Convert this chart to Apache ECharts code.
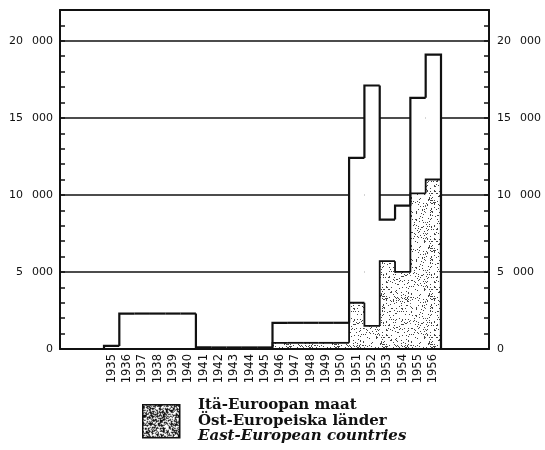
<!DOCTYPE html>
<html>
<head>
<meta charset="utf-8">
<script src="https://cdn.jsdelivr.net/npm/echarts@6/dist/echarts.min.js"></script>
<style>
  html, body { margin: 0; padding: 0; background: #fff; }
  #chart { width: 545px; height: 450px; }
</style>
</head>
<body>
<div id="chart"></div>
<script>
// data
var years = ["1935", "1936", "1937", "1938", "1939", "1940", "1941", "1942", "1943", "1944", "1945",
  "1946", "1947", "1948", "1949", "1950", "1951", "1952", "1953", "1954", "1955", "1956"];
var totalValues = [200, 2300, 2300, 2300, 2300, 2300, 100, 100, 100, 100, 100,
  1700, 1700, 1700, 1700, 1700, 12400, 17100, 8400, 9300, 16300, 19100];
var eastValues = [0, 0, 0, 0, 0, 0, 0, 0, 0, 0, 0,
  400, 400, 400, 400, 400, 3000, 1500, 5700, 5000, 10100, 11000];
var yMax = 22000;
var legendLines = ["Itä-Euroopan maat", "Öst-Europeiska länder", "East-European countries"];

// stipple texture (fixed pseudo pattern, not data)
function makeStipple(size, count, dot) {
  var cv = document.createElement("canvas");
  cv.width = size;
  cv.height = size;
  var ctx = cv.getContext("2d");
  ctx.fillStyle = "#fff";
  ctx.fillRect(0, 0, size, size);
  ctx.fillStyle = dot;
  var s = 12345;
  for (var k = 0; k < count; k++) {
    s = (s * 16807) % 2147483647;
    var x = s % size;
    s = (s * 16807) % 2147483647;
    var y = s % size;
    ctx.fillRect(x, y, 1, 1);
  }
  return cv;
}
var lightStipple = { image: makeStipple(48, 300, "#444"), repeat: "repeat" };
var darkStipple = { image: makeStipple(48, 1500, "#111"), repeat: "repeat" };

function fillItem(values, fill) {
  return function (params, api) {
    var i = params.dataIndex;
    var top = api.coord([i, values[i]]);
    var base = api.coord([i, 0]);
    var w = api.size([1, 0])[0];
    return {
      type: "rect",
      shape: { x: top[0] - w / 2, y: top[1], width: w, height: base[1] - top[1] },
      style: { fill: fill, stroke: null }
    };
  };
}

function outlineItem(values, width) {
  return function (params, api) {
    var i = params.dataIndex;
    var prev = i > 0 ? values[i - 1] : 0;
    var top = api.coord([i, values[i]]);
    var w = api.size([1, 0])[0];
    var x0 = top[0] - w / 2;
    var x1 = top[0] + w / 2;
    var pts = [[x0, api.coord([i, prev])[1]], [x0, top[1]], [x1, top[1]]];
    if (i === values.length - 1) {
      pts.push([x1, api.coord([i, 0])[1]]);
    }
    return {
      type: "polyline",
      shape: { points: pts },
      style: { stroke: "#111", lineWidth: width, fill: null, lineJoin: "miter" }
    };
  };
}

function pairs(values) {
  return values.map(function (v, i) { return [i, v]; });
}

function yLabel(v) {
  if (v % 5000 !== 0) return "";
  if (v === 0) return "0";
  return String(v / 1000) + "\u2002 000";
}

var frameLine = { show: true, onZero: false, lineStyle: { color: "#111", width: 2 } };

var myChart = echarts.init(document.getElementById("chart"));
myChart.setOption({
  backgroundColor: "#fff",
  animation: false,
  grid: [
    { left: 60, right: 56, top: 10, bottom: 101 },
    { left: 104, right: 104, top: 10, bottom: 101 }
  ],
  xAxis: [
    {
      gridIndex: 0, type: "value", min: 0, max: 1, position: "bottom", z: 10,
      axisLine: frameLine,
      axisTick: { show: false }, axisLabel: { show: false }, splitLine: { show: false }
    },
    {
      gridIndex: 0, type: "value", min: 0, max: 1, position: "top", z: 10,
      axisLine: frameLine,
      axisTick: { show: false }, axisLabel: { show: false }, splitLine: { show: false }
    },
    {
      gridIndex: 1, type: "category", data: years, boundaryGap: true,
      axisLine: { show: false }, axisTick: { show: false },
      axisLabel: {
        interval: 0, rotate: 90, margin: 5,
        fontFamily: "DejaVu Sans", fontSize: 11.5, color: "#111"
      }
    }
  ],
  yAxis: [
    {
      gridIndex: 0, type: "value", min: 0, max: yMax, interval: 1000, position: "left",
      axisLine: frameLine,
      axisTick: { show: true, inside: true, length: 5, lineStyle: { color: "#111", width: 1.5 } },
      axisLabel: { formatter: yLabel, margin: 7, fontFamily: "DejaVu Sans", fontSize: 11, color: "#111" },
      splitLine: {
        show: true,
        lineStyle: { color: ["#111", "rgba(0,0,0,0)", "rgba(0,0,0,0)", "rgba(0,0,0,0)", "rgba(0,0,0,0)"], width: 1.5 }
      }
    },
    {
      gridIndex: 0, type: "value", min: 0, max: yMax, interval: 1000, position: "right",
      axisLine: frameLine,
      axisTick: { show: true, inside: true, length: 5, lineStyle: { color: "#111", width: 1.5 } },
      axisLabel: { formatter: yLabel, margin: 8, fontFamily: "DejaVu Sans", fontSize: 11, color: "#111" },
      splitLine: { show: false }
    },
    {
      gridIndex: 1, type: "value", min: 0, max: yMax, show: false
    }
  ],
  series: [
    {
      name: "total-fill", type: "custom", xAxisIndex: 2, yAxisIndex: 2, z: 2,
      renderItem: fillItem(totalValues, "#fff"), data: pairs(totalValues)
    },
    {
      name: legendLines[0], type: "custom", xAxisIndex: 2, yAxisIndex: 2, z: 3,
      renderItem: fillItem(eastValues, lightStipple), data: pairs(eastValues)
    },
    {
      name: "east-outline", type: "custom", xAxisIndex: 2, yAxisIndex: 2, z: 4,
      renderItem: outlineItem(eastValues, 1.8), data: pairs(eastValues)
    },
    {
      name: "total-outline", type: "custom", xAxisIndex: 2, yAxisIndex: 2, z: 5,
      renderItem: outlineItem(totalValues, 2.2), data: pairs(totalValues)
    }
  ],
  graphic: [
    {
      type: "rect", left: 142, top: 404,
      shape: { width: 37, height: 33 },
      style: { fill: darkStipple, stroke: "#111", lineWidth: 1.5 }
    },
    {
      type: "text", left: 198, top: 398,
      style: {
        text: "{a|" + legendLines[0] + "}\n{a|" + legendLines[1] + "}\n{b|" + legendLines[2] + "}",
        rich: {
          a: { fontFamily: "DejaVu Serif", fontSize: 15, fontWeight: "bold", lineHeight: 15.5, fill: "#111" },
          b: { fontFamily: "DejaVu Serif", fontSize: 15, fontStyle: "italic", fontWeight: "bold", lineHeight: 15.5, fill: "#111" }
        }
      }
    }
  ]
});
</script>
</body>
</html>
